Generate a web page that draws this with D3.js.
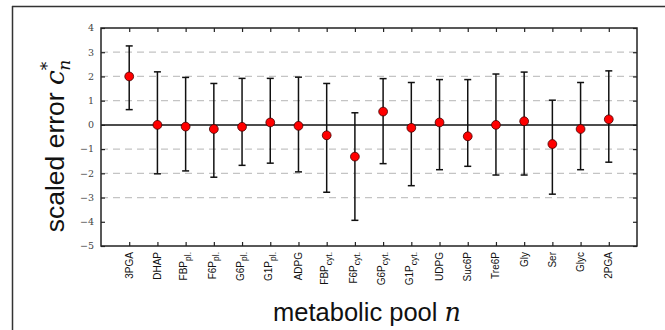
<!DOCTYPE html>
<html>
<head>
<meta charset="utf-8">
<script src="https://cdn.jsdelivr.net/npm/d3@7"></script>
<style>
  body { margin: 0; background: #fff; }
</style>
</head>
<body>
<div id="chart"></div>
<script>
// metabolic pools: [name, subscript]
const pools = [
  ["3PGA", ""], ["DHAP", ""], ["FBP", "pl."], ["F6P", "pl."], ["G6P", "pl."],
  ["G1P", "pl."], ["ADPG", ""], ["FBP", "cyt."], ["F6P", "cyt."], ["G6P", "cyt."],
  ["G1P", "cyt."], ["UDPG", ""], ["Suc6P", ""], ["Tre6P", ""], ["Gly", ""],
  ["Ser", ""], ["Glyc", ""], ["2PGA", ""]
];
const errValue = [2.0, 0.0, -0.07, -0.17, -0.08, 0.1, -0.04, -0.43, -1.31, 0.55,
                  -0.12, 0.1, -0.47, 0.0, 0.15, -0.79, -0.17, 0.23];
const errUpper = [3.26, 2.19, 1.96, 1.71, 1.92, 1.92, 1.97, 1.71, 0.5, 1.91,
                  1.75, 1.87, 1.87, 2.1, 2.18, 1.02, 1.75, 2.23];
const errLower = [0.63, -2.02, -1.9, -2.16, -1.67, -1.58, -1.94, -2.78, -3.94, -1.6,
                  -2.51, -1.85, -1.71, -2.07, -2.07, -2.86, -1.85, -1.54];
const yTicks = [-5, -4, -3, -2, -1, 0, 1, 2, 3, 4];
const gridTicks = [-3, -2, -1, 1, 2, 3];

const width = 665, height = 330;
const margin = { top: 28, right: 28, bottom: 84, left: 101 };
const innerW = width - margin.left - margin.right;
const innerH = height - margin.top - margin.bottom;

const svg = d3.select("#chart").append("svg")
  .attr("width", width).attr("height", height)
  .style("font-family", "'Liberation Sans', Arial, sans-serif");

// cropped figure frame (top + left edges)
svg.append("line").attr("x1", 12).attr("x2", width).attr("y1", 6.5).attr("y2", 6.5)
  .attr("stroke", "#333").attr("stroke-width", 1.5);
svg.append("line").attr("x1", 12.5).attr("x2", 12.5).attr("y1", 6).attr("y2", height)
  .attr("stroke", "#333").attr("stroke-width", 1.5);

const g = svg.append("g").attr("transform", `translate(${margin.left},${margin.top})`);

const x = d3.scaleLinear([0, pools.length + 1], [0, innerW]);
const y = d3.scaleLinear([-5, 4], [innerH, 0]);

// dashed grid
g.selectAll(".grid").data(gridTicks).enter().append("line")
  .attr("x1", 0).attr("x2", innerW)
  .attr("y1", d => y(d)).attr("y2", d => y(d))
  .attr("stroke", "#c4c4c4").attr("stroke-width", 1.3)
  .attr("stroke-dasharray", "7,5");

// zero line
g.append("line").attr("x1", 0).attr("x2", innerW)
  .attr("y1", y(0)).attr("y2", y(0))
  .attr("stroke", "#111").attr("stroke-width", 1.5);

// axes with inward ticks
const yAxisL = d3.axisLeft(y).tickValues(yTicks).tickSize(-4).tickFormat("");
const yAxisR = d3.axisRight(y).tickValues(yTicks).tickSize(-4).tickFormat("");
const xIdx = d3.range(1, pools.length + 1);
const xAxisB = d3.axisBottom(x).tickValues(xIdx).tickSize(-4).tickFormat("");
const xAxisT = d3.axisTop(x).tickValues(xIdx).tickSize(-4).tickFormat("");

g.append("g").call(yAxisL);
g.append("g").attr("transform", `translate(${innerW},0)`).call(yAxisR);
g.append("g").attr("transform", `translate(0,${innerH})`).call(xAxisB);
g.append("g").call(xAxisT);
g.selectAll(".domain").remove();
g.selectAll(".tick line").attr("stroke", "#222").attr("stroke-width", 1.2);

g.append("rect").attr("width", innerW).attr("height", innerH)
  .attr("fill", "none").attr("stroke", "#222").attr("stroke-width", 1.5);

// y tick labels (serif math style)
g.selectAll(".ylab").data(yTicks).enter().append("text")
  .attr("x", -7).attr("y", d => y(d)).attr("dy", "0.35em")
  .attr("text-anchor", "end")
  .style("font-family", "'DejaVu Serif', 'Liberation Serif', serif")
  .style("font-size", "9.5px").attr("fill", "#444")
  .text(d => d < 0 ? "\u2212" + Math.abs(d) : d);

// x tick labels, rotated
const xl = g.selectAll(".xlab").data(pools).enter().append("g")
  .attr("transform", (d, i) => `translate(${x(i + 1)},${innerH + 6}) rotate(-90)`);
const xt = xl.append("text").attr("text-anchor", "end")
  .style("font-size", "10px").attr("fill", "#111");
xt.append("tspan").text(d => d[0]);
xt.filter(d => d[1]).append("tspan")
  .attr("dy", "3.5").style("font-size", "8.5px").text(d => d[1]);
xt.each(function () {
  const b = this.getBBox();
  d3.select(this).attr("y", -(b.y + b.height / 2));
});

// error bars
const bars = g.selectAll(".err").data(pools).enter().append("g");
bars.append("line")
  .attr("x1", (d, i) => x(i + 1)).attr("x2", (d, i) => x(i + 1))
  .attr("y1", (d, i) => y(errUpper[i])).attr("y2", (d, i) => y(errLower[i]))
  .attr("stroke", "#111").attr("stroke-width", 1.5);
bars.append("line")
  .attr("x1", (d, i) => x(i + 1) - 3.5).attr("x2", (d, i) => x(i + 1) + 3.5)
  .attr("y1", (d, i) => y(errUpper[i])).attr("y2", (d, i) => y(errUpper[i]))
  .attr("stroke", "#111").attr("stroke-width", 1.5);
bars.append("line")
  .attr("x1", (d, i) => x(i + 1) - 3.5).attr("x2", (d, i) => x(i + 1) + 3.5)
  .attr("y1", (d, i) => y(errLower[i])).attr("y2", (d, i) => y(errLower[i]))
  .attr("stroke", "#111").attr("stroke-width", 1.5);

// markers
g.selectAll(".pt").data(errValue).enter().append("circle")
  .attr("cx", (d, i) => x(i + 1)).attr("cy", d => y(d))
  .attr("r", 4.4)
  .attr("fill", "#f00").attr("stroke", "#400").attr("stroke-width", 0.8);

// axis titles
const yTitle = svg.append("text")
  .attr("transform", `translate(64,${margin.top + innerH / 2 + 9}) rotate(-90)`)
  .attr("text-anchor", "middle").style("font-size", "26.5px").attr("fill", "#111");
yTitle.append("tspan").text("scaled error ");
yTitle.append("tspan").style("font-family", "'DejaVu Serif', 'Liberation Serif', serif")
  .style("font-style", "italic").text("c");
yTitle.append("tspan").attr("dy", -11).attr("dx", 0).style("font-size", "17px")
  .style("font-family", "'DejaVu Serif', serif").text("*");
yTitle.append("tspan").attr("dy", 17).attr("dx", -9).style("font-size", "17px")
  .style("font-family", "'DejaVu Serif', 'Liberation Serif', serif")
  .style("font-style", "italic").text("n");

const xTitle = svg.append("text")
  .attr("x", 367).attr("y", 321)
  .attr("text-anchor", "middle").style("font-size", "25.5px").attr("fill", "#111");
xTitle.append("tspan").text("metabolic pool ");
xTitle.append("tspan").style("font-family", "'DejaVu Serif', 'Liberation Serif', serif")
  .style("font-style", "italic").text("n");
</script>
</body>
</html>
